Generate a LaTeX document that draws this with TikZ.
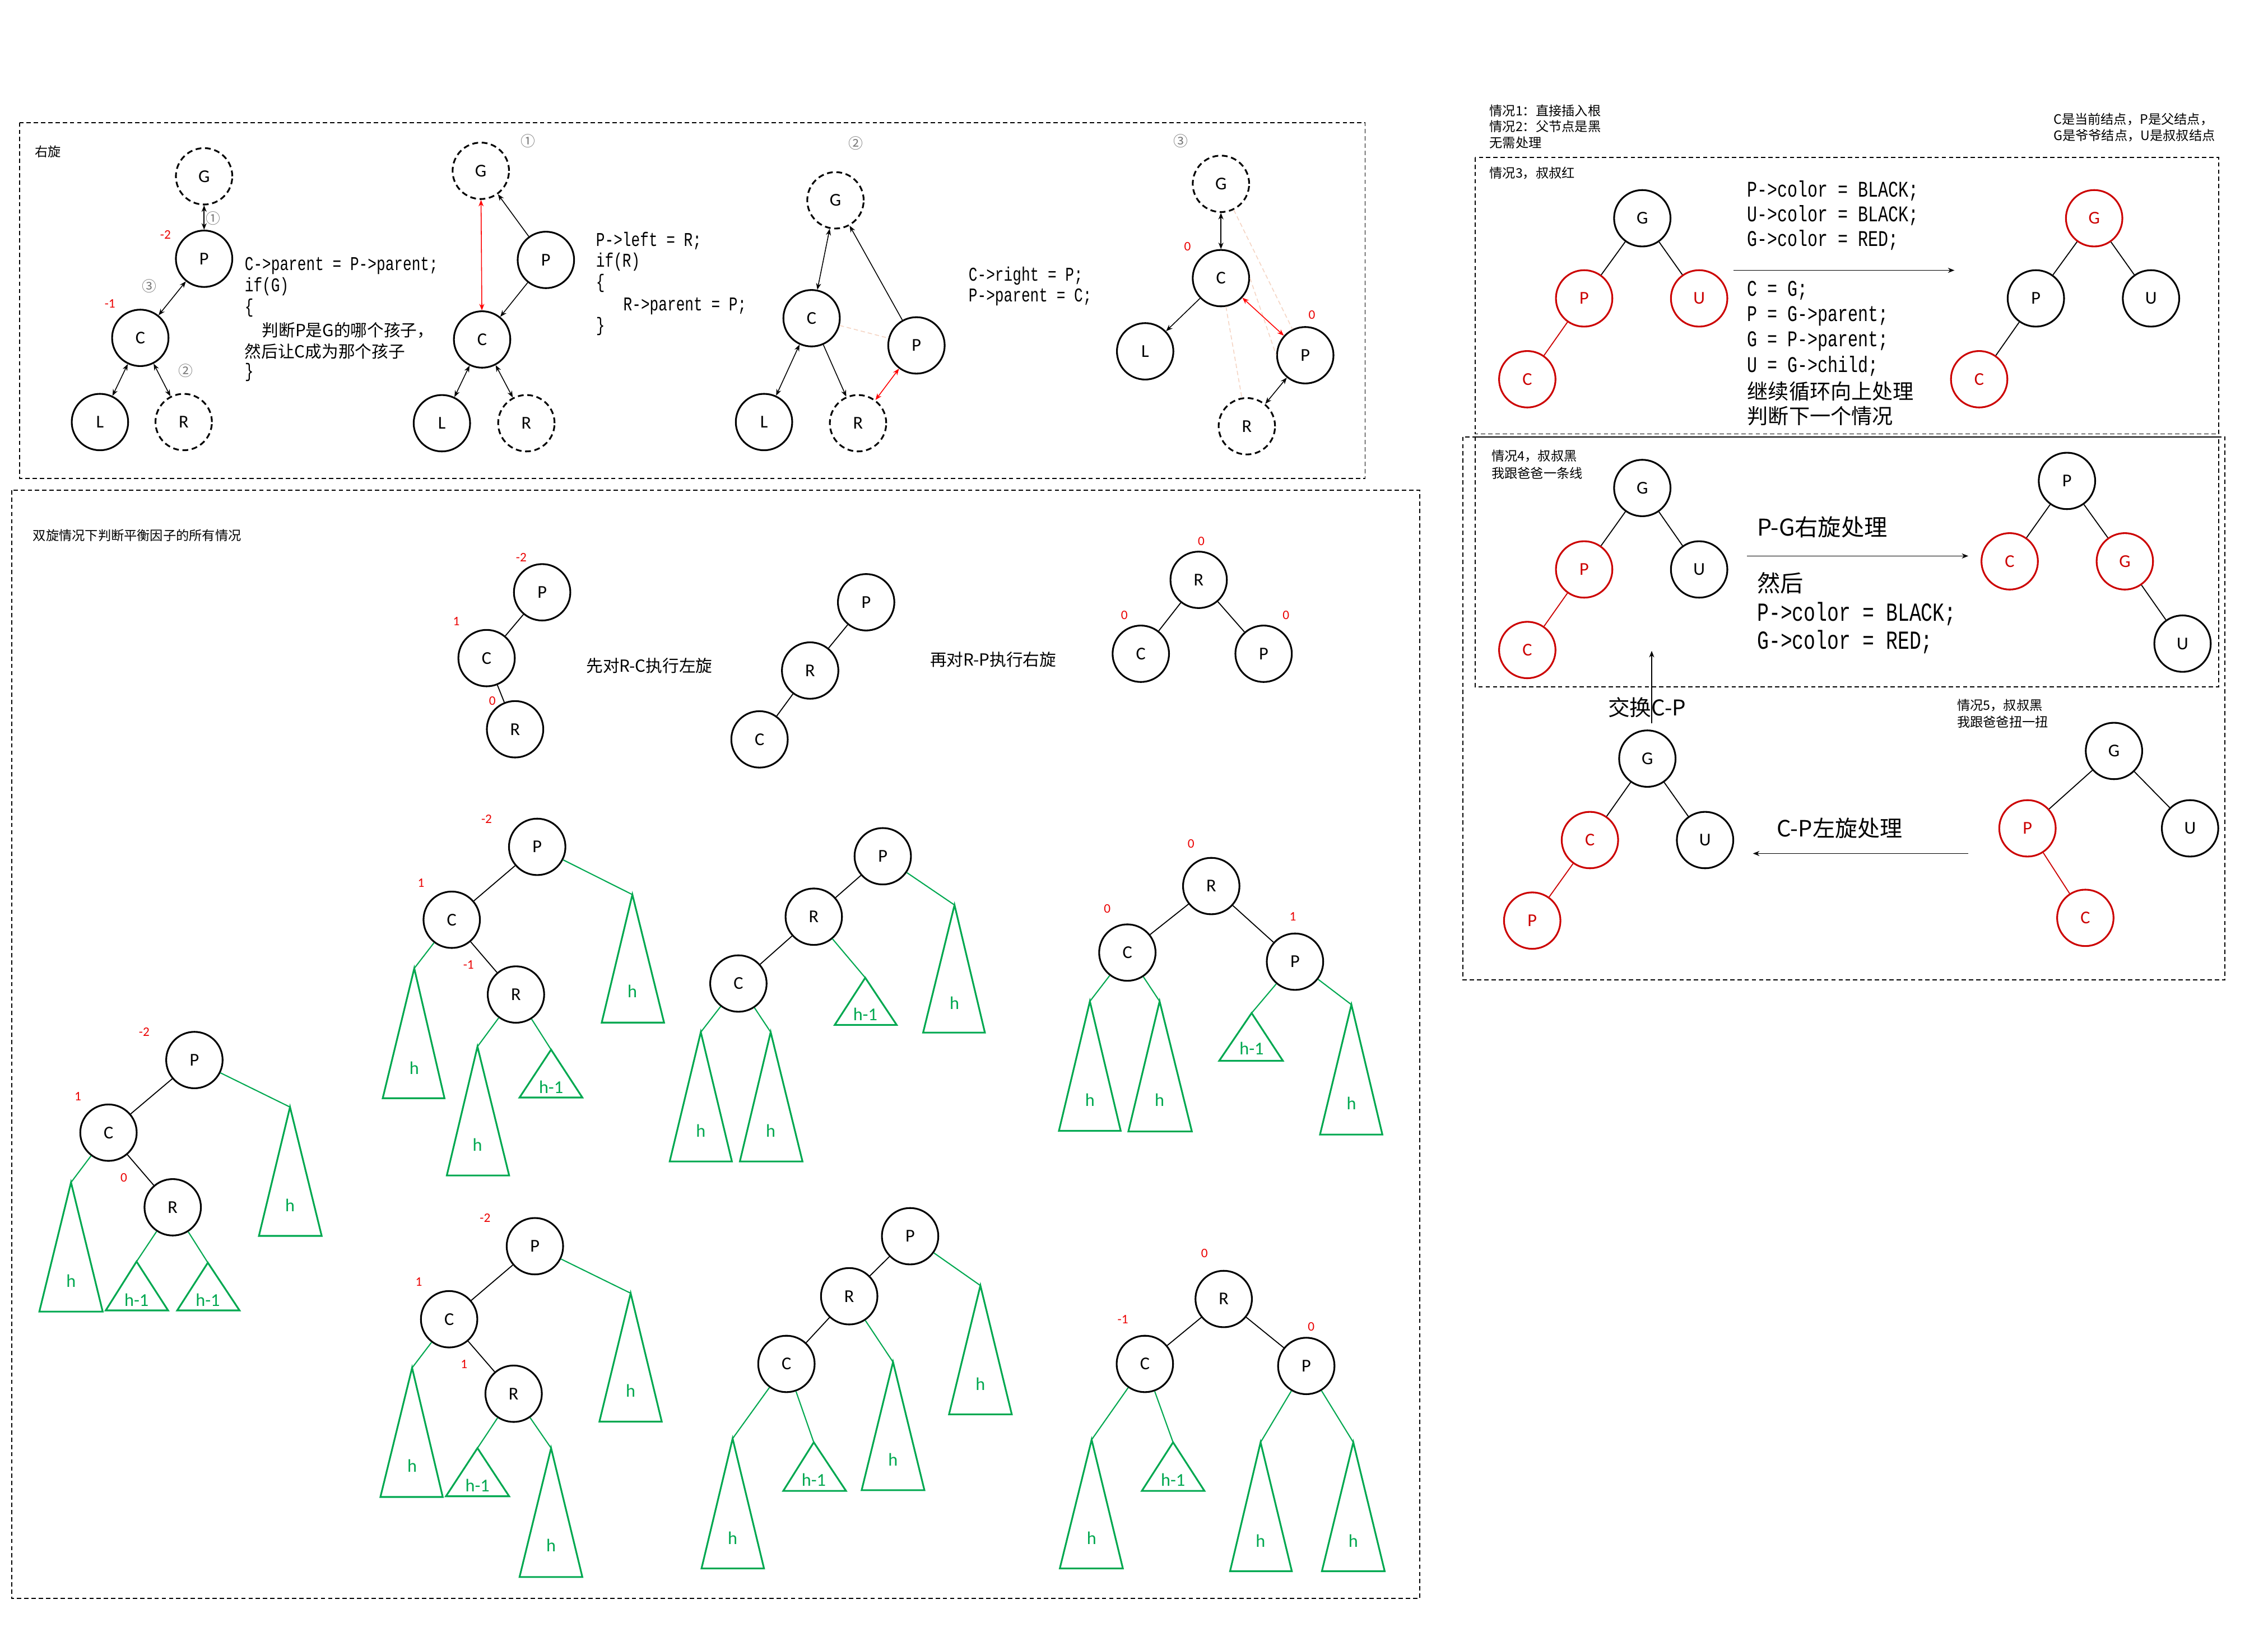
\documentclass[tikz,border=0pt]{standalone}
\usepackage{fontspec}
\setmainfont{Carlito}
\newfontfamily\cjk{Noto Sans CJK SC}
\newfontfamily\code[FakeStretch=0.75]{Liberation Mono}
\usetikzlibrary{arrows.meta}
\definecolor{nred}{RGB}{204,0,0}
\definecolor{bfred}{RGB}{235,0,0}
\definecolor{grn}{RGB}{0,168,80}
\definecolor{cgray}{RGB}{120,120,120}
\definecolor{peach}{RGB}{245,212,195}
\tikzset{
 nd/.style={circle,draw,line width=1.2pt,minimum size=39pt,inner sep=0pt,font=\fontsize{12.5}{14}\selectfont},
 dnd/.style={nd,dash pattern=on 4pt off 2.5pt},
 rnd/.style={nd,draw=nred,text=nred},
 bfl/.style={text=bfred,inner sep=0pt,font=\fontsize{9}{10}\selectfont},
 circn/.style={text=cgray,inner sep=0pt,font=\cjk\fontsize{10}{11}\selectfont},
 txt/.style={inner sep=0pt,anchor=west},
 ed/.style={line width=0.7pt},
 red/.style={line width=0.7pt,draw=nred},
 gl/.style={draw=grn,line width=0.8pt},
 tri/.style={draw=grn,line width=1.2pt,line join=miter},
 hlab/.style={text=grn,inner sep=0pt,font=\fontsize{12.5}{14}\selectfont},
 dbox/.style={draw,line width=0.7pt,dash pattern=on 3pt off 2pt},
 arw/.style={line width=0.6pt,-{Stealth[length=4.5pt,width=3.5pt]}},
 darw/.style={line width=0.6pt,{Stealth[length=4.5pt,width=3.5pt]}-{Stealth[length=4.5pt,width=3.5pt]}},
 rdarw/.style={darw,draw=red},
 faint/.style={draw=peach,line width=0.6pt,dash pattern=on 3pt off 2pt},
 codeA/.style={txt,font=\code\fontsize{13.5}{15}\selectfont},
 codeB/.style={txt,font=\code\fontsize{15.5}{17}\selectfont},
 codeC/.style={txt,font=\code\fontsize{18}{20}\selectfont},
 cjkA/.style={txt,font=\cjk\fontsize{11.5}{13}\selectfont},
 cjkB/.style={txt,font=\cjk\fontsize{14.4}{16}\selectfont},
 cjkC/.style={txt,font=\cjk\fontsize{16}{18}\selectfont},
 cjkS/.style={txt,font=\cjk\fontsize{9}{10}\selectfont},
}
\newcommand\mytri[8]{%
 \coordinate (#1) at (#2,#3);
 \draw[tri] (#1) -- (#4,#6) -- (#5,#6) -- cycle;
 \node[hlab] (#1l) at (#2,#8) {#7};
}
\begin{document}
\begin{tikzpicture}[x=1pt,y=-1pt]
\useasboundingbox (0,0) rectangle (1568,1128);
\fill[white] (0,0) rectangle (1568,1128);

% ===== boxes =====
\draw[dbox] (13.7,84.7) rectangle (943.8,330.9);
\draw[dbox] (8,338.9) rectangle (981.4,1105.1);
\draw[dbox] (1020,108.8) rectangle (1534,300);
\draw[dbox] (1020,302) rectangle (1534,474.9);
\draw[dbox] (1011.5,302) rectangle (1538.3,677.4);

% ===== top box =====
\node[cjkS] (t0) at (24,105) {右旋};

% tree 1
\node[dnd] (G1) at (141.1,121.9) {G};
\node[nd] (P1) at (141.1,178.9) {P};
\node[nd] (C1) at (97.0,233.6) {C};
\node[nd] (L1) at (69.1,291.8) {L};
\node[dnd] (R1) at (127.0,291.8) {R};
\draw[darw] (G1) -- (P1);
\draw[darw] (P1) -- (C1);
\draw[darw] (C1) -- (L1);
\draw[darw] (C1) -- (R1);
\node[circn] (n11) at (147.4,151.1) {①};
\node[circn] (n13) at (103.0,198.0) {③};
\node[circn] (n12) at (128.5,256.4) {②};
\node[bfl] (b11) at (114.4,162.1) {-2};
\node[bfl] (b12) at (76.0,209.8) {-1};
\node[codeA] (k11) at (169,183.7) {C->parent = P->parent;};
\node[codeA] (k12) at (169,198.0) {if(G)};
\node[codeA] (k13) at (169,212.7) {\{};
\node[cjkA] (k14) at (181,228.2) {判断P是G的哪个孩子，};
\node[cjkA] (k15) at (169,242.9) {然后让C成为那个孩子};
\node[codeA] (k16) at (169,257.5) {\}};

% tree 2
\node[dnd] (G2) at (332.4,118.1) {G};
\node[nd] (P2) at (377.4,179.7) {P};
\node[nd] (C2) at (333.3,234.7) {C};
\node[nd] (L2) at (305.5,292.6) {L};
\node[dnd] (R2) at (363.9,292.6) {R};
\draw[rdarw] (G2) -- (C2);
\draw[arw] (P2) -- (G2);
\draw[arw] (P2) -- (C2);
\draw[darw] (C2) -- (L2);
\draw[darw] (C2) -- (R2);
\node[circn] (n21) at (364.9,97.4) {①};
\node[codeA] (k21) at (411.9,166.7) {P->left = R;};
\node[codeA] (k22) at (411.9,180.9) {if(R)};
\node[codeA] (k23) at (411.9,195.9) {\{};
\node[codeA] (k24) at (430.8,211.5) {R->parent = P;};
\node[codeA] (k25) at (411.9,225.7) {\}};

% tree 3
\node[dnd] (G3) at (577.6,138.5) {G};
\node[nd] (C3) at (561.1,220.0) {C};
\node[nd] (P3) at (633.6,238.8) {P};
\node[nd] (L3) at (528.2,291.8) {L};
\node[dnd] (R3) at (593.2,292.6) {R};
\draw[faint] (C3) -- (P3);
\draw[darw] (G3) -- (C3);
\draw[arw] (P3) -- (G3);
\draw[arw] (C3) -- (R3);
\draw[darw] (C3) -- (L3);
\draw[rdarw] (R3) -- (P3);
\node[circn] (n31) at (591.7,99.0) {②};
\node[codeA] (k31) at (669.5,190.7) {C->right = P;};
\node[codeA] (k32) at (669.5,205.4) {P->parent = C;};

% tree 4
\node[dnd] (G4) at (844.1,127.1) {G};
\node[nd] (C4) at (844.1,192.3) {C};
\node[nd] (L4) at (791.7,242.9) {L};
\node[nd] (P4) at (902.4,245.6) {P};
\node[dnd] (R4) at (862.0,294.7) {R};
\draw[faint] (G4) -- (P4);
\draw[faint] (C4) -- (R4);
\draw[faint] (C4.east) -- (P4.west);
\draw[darw] (G4) -- (C4);
\draw[arw] (C4) -- (L4);
\draw[rdarw] (C4) -- (P4);
\draw[darw] (P4) -- (R4);
\node[circn] (n41) at (816.2,97.4) {③};
\node[bfl] (b41) at (821.0,170.3) {0};
\node[bfl] (b42) at (907.0,217.6) {0};

% ===== right region =====
\node[cjkS] (s1) at (1029.6,76.4) {情况1：直接插入根};
\node[cjkS] (s2) at (1029.6,87.5) {情况2：父节点是黑};
\node[cjkS] (s3) at (1029.6,98.5) {无需处理};
\node[cjkS] (s4) at (1419.5,82.5) {C是当前结点，P是父结点，};
\node[cjkS] (s5) at (1419.5,93.9) {G是爷爷结点，U是叔叔结点};

% case 3
\node[cjkS] (c3t) at (1029.6,119.7) {情况3，叔叔红};
\node[nd] (c3G) at (1135.4,150.9) {G};
\node[rnd] (c3P) at (1095.2,206.3) {P};
\node[rnd] (c3U) at (1174.7,206.3) {U};
\node[rnd] (c3C) at (1055.9,262.2) {C};
\draw[ed] (c3G) -- (c3P);
\draw[ed] (c3G) -- (c3U);
\draw[red] (c3P) -- (c3C);
\coordinate (a3s) at (1198.6,186.9);
\coordinate (a3e) at (1351.2,186.9);
\draw[arw] (a3s) -- (a3e);
\node[codeB] (k51) at (1207.8,131.9) {P->color = BLACK;};
\node[codeB] (k52) at (1207.8,148.9) {U->color = BLACK;};
\node[codeB] (k53) at (1207.8,166.1) {G->color = RED;};
\node[codeB] (k54) at (1207.8,201.0) {C = G;};
\node[codeB] (k55) at (1207.8,218.5) {P = G->parent;};
\node[codeB] (k56) at (1207.8,236.0) {G = P->parent;};
\node[codeB] (k57) at (1207.8,253.1) {U = G->child;};
\node[cjkB] (k58) at (1207.8,270.4) {继续循环向上处理};
\node[cjkB] (k59) at (1207.8,287.6) {判断下一个情况};
\node[rnd] (d3G) at (1447.8,150.9) {G};
\node[nd] (d3P) at (1407.5,206.3) {P};
\node[nd] (d3U) at (1487.1,206.3) {U};
\node[rnd] (d3C) at (1368.3,262.2) {C};
\draw[ed] (d3G) -- (d3P);
\draw[ed] (d3G) -- (d3U);
\draw[ed] (d3P) -- (d3C);

% case 4
\node[cjkS] (c4t) at (1031,315.4) {情况4，叔叔黑};
\node[cjkS] (c4u) at (1031,327.2) {我跟爸爸一条线};
\node[nd] (c4G) at (1135.4,337.4) {G};
\node[rnd] (c4P) at (1095.2,393.7) {P};
\node[nd] (c4U) at (1174.7,393.7) {U};
\node[rnd] (c4C) at (1055.9,449.4) {C};
\draw[ed] (c4G) -- (c4P);
\draw[ed] (c4G) -- (c4U);
\draw[red] (c4P) -- (c4C);
\node[cjkC] (k61) at (1214.6,364.3) {P-G右旋处理};
\coordinate (a4s) at (1207.8,384.4);
\coordinate (a4e) at (1360.8,384.4);
\draw[arw] (a4s) -- (a4e);
\node[cjkC] (k62) at (1214.6,403.0) {然后};
\node[codeC] (k63) at (1214.6,424.3) {P->color = BLACK;};
\node[codeC] (k64) at (1214.6,443.8) {G->color = RED;};
\node[nd] (d4P) at (1429.0,332.5) {P};
\node[rnd] (d4C) at (1389.4,388.1) {C};
\node[rnd] (d4G) at (1469.0,388.1) {G};
\node[nd] (d4U) at (1508.9,445.0) {U};
\draw[ed] (d4P) -- (d4C);
\draw[ed] (d4P) -- (d4G);
\draw[ed] (d4G) -- (d4U);

% case 5
\node[cjkC,font=\cjk\fontsize{15}{17}\selectfont,anchor=center] (k71) at (1138.7,489.1) {交换C-P};
\coordinate (vs) at (1141.9,500.1);
\coordinate (ve) at (1141.9,450.0);
\draw[arw] (vs) -- (ve);
\node[cjkS] (c5t) at (1352.9,487.8) {情况5，叔叔黑};
\node[cjkS] (c5u) at (1352.9,499.3) {我跟爸爸扭一扭};
\node[nd] (c5G) at (1138.9,524.5) {G};
\node[rnd] (c5C) at (1099.2,580.8) {C};
\node[nd] (c5U) at (1178.8,580.8) {U};
\node[rnd] (c5P) at (1059.3,636.5) {P};
\draw[ed] (c5G) -- (c5C);
\draw[ed] (c5G) -- (c5U);
\draw[red] (c5C) -- (c5P);
\node[cjkC,font=\cjk\fontsize{15.5}{17}\selectfont] (k72) at (1228.3,572.7) {C-P左旋处理};
\coordinate (a5s) at (1360.8,590.1);
\coordinate (a5e) at (1211.9,590.1);
\draw[arw] (a5s) -- (a5e);
\node[nd] (d5G) at (1461.5,519.2) {G};
\node[rnd] (d5P) at (1401.7,572.7) {P};
\node[nd] (d5U) at (1514.1,572.7) {U};
\node[rnd] (d5C) at (1441.7,634.6) {C};
\draw[ed] (d5G) -- (d5P);
\draw[ed] (d5G) -- (d5U);
\draw[red] (d5P) -- (d5C);

% ===== bottom box =====
\node[cjkS] (bt) at (22.6,370.2) {双旋情况下判断平衡因子的所有情况};

% demo 1
\node[nd] (e1P) at (374.8,409.5) {P};
\node[nd] (e1C) at (336.4,455.0) {C};
\node[nd] (e1R) at (356.1,504.2) {R};
\draw[ed] (e1P) -- (e1C);
\draw[ed] (e1C) -- (e1R);
\node[bfl] (e1b1) at (360.4,385.3) {-2};
\node[bfl] (e1b2) at (315.5,429.4) {1};
\node[bfl] (e1b3) at (340.4,484.5) {0};
\node[cjkA] (e1t) at (405.1,460.1) {先对R-C执行左旋};
% demo 2
\node[nd] (e2P) at (598.8,416.4) {P};
\node[nd] (e2R) at (560.1,463.6) {R};
\node[nd] (e2C) at (525.1,511.2) {C};
\draw[ed] (e2P) -- (e2R);
\draw[ed] (e2R) -- (e2C);
\node[cjkA] (e2t) at (642.8,455.9) {再对R-P执行右旋};
% demo 3
\node[nd] (e3R) at (828.7,400.9) {R};
\node[nd] (e3C) at (788.7,452.0) {C};
\node[nd] (e3P) at (873.6,452.0) {P};
\draw[ed] (e3R) -- (e3C);
\draw[ed] (e3R) -- (e3P);
\node[bfl] (e3b1) at (830.5,374.2) {0};
\node[bfl] (e3b2) at (777.3,425.2) {0};
\node[bfl] (e3b3) at (889.1,425.2) {0};

% tree A
\node[nd] (AP) at (371.4,585.5) {P};
\node[nd] (AC) at (312.3,635.9) {C};
\node[nd] (AR) at (356.7,687.6) {R};
\draw[ed] (AP) -- (AC);
\draw[ed] (AC) -- (AR);
\node[bfl] (Ab1) at (336.4,566.4) {-2};
\node[bfl] (Ab2) at (291.1,610.6) {1};
\node[bfl] (Ab3) at (323.9,667.2) {-1};
\mytri{Ta1}{437.2}{618.5}{416.0}{459.1}{707.0}{h}{685.3}
\mytri{Ta2}{286.4}{669.5}{264.6}{307.3}{759.3}{h}{738.2}
\mytri{Ta3}{330.1}{723.6}{308.9}{352.0}{812.7}{h}{791.6}
\mytri{Ta4}{381.0}{725.7}{359.2}{402.6}{758.8}{h-1}{751.4}
\draw[gl] (AP) -- (Ta1);
\draw[gl] (AC) -- (Ta2);
\draw[gl] (AR) -- (Ta3);
\draw[gl] (AR) -- (Ta4);

% tree B
\node[nd] (BP) at (134.4,732.9) {P};
\node[nd] (BC) at (75.0,783.1) {C};
\node[nd] (BR) at (119.4,834.7) {R};
\draw[ed] (BP) -- (BC);
\draw[ed] (BC) -- (BR);
\node[bfl] (Bb1) at (99.7,713.6) {-2};
\node[bfl] (Bb2) at (53.8,758.0) {1};
\node[bfl] (Bb3) at (85.6,814.3) {0};
\mytri{Tb1}{200.5}{765.4}{179.0}{222.4}{854.5}{h}{833.3}
\mytri{Tb2}{49.1}{817.5}{27.2}{71.0}{906.8}{h}{885.4}
\mytri{Tb3}{94.4}{872.2}{73.1}{116.2}{906.0}{h-1}{898.6}
\mytri{Tb4}{143.7}{873.0}{122.5}{165.6}{906.0}{h-1}{898.6}
\draw[gl] (BP) -- (Tb1);
\draw[gl] (BC) -- (Tb2);
\draw[gl] (BR) -- (Tb3);
\draw[gl] (BR) -- (Tb4);

% tree C
\node[nd] (CP) at (610.3,592.0) {P};
\node[nd] (CR) at (562.6,633.8) {R};
\node[nd] (CC) at (510.5,680.0) {C};
\draw[ed] (CP) -- (CR);
\draw[ed] (CR) -- (CC);
\mytri{Tc1}{659.9}{625.7}{638.2}{680.9}{713.9}{h}{693.5}
\mytri{Tc2}{598.2}{676.0}{577.1}{619.9}{708.6}{h-1}{701.2}
\mytri{Tc3}{484.5}{713.6}{463.0}{506.0}{803.0}{h}{781.8}
\mytri{Tc4}{532.8}{713.6}{511.5}{554.8}{803.0}{h}{781.8}
\draw[gl] (CP) -- (Tc1);
\draw[gl] (CR) -- (Tc2);
\draw[gl] (CC) -- (Tc3);
\draw[gl] (CC) -- (Tc4);

% tree E
\node[nd] (EP) at (895.3,664.9) {P};
\node[nd] (ER) at (837.4,612.6) {R};
\node[nd] (EC) at (779.4,658.6) {C};
\draw[ed] (ER) -- (EC);
\draw[ed] (ER) -- (EP);
\node[bfl] (Eb1) at (823.4,583.2) {0};
\node[bfl] (Eb2) at (765.5,628.4) {0};
\node[bfl] (Eb3) at (893.8,633.8) {1};
\mytri{Te1}{753.5}{692.3}{732.1}{774.8}{781.8}{h}{760.6}
\mytri{Te2}{801.7}{692.3}{780.1}{824.0}{782.3}{h}{760.6}
\mytri{Te3}{865.3}{700.4}{842.9}{886.9}{733.4}{h-1}{725.0}
\mytri{Te4}{934.3}{694.6}{912.6}{955.7}{784.4}{h}{762.8}
\draw[gl] (EC) -- (Te1);
\draw[gl] (EC) -- (Te2);
\draw[gl] (EP) -- (Te3);
\draw[gl] (EP) -- (Te4);

% tree D
\node[nd] (DP) at (369.8,861.6) {P};
\node[nd] (DC) at (310.5,912.1) {C};
\node[nd] (DR) at (355.1,963.6) {R};
\draw[ed] (DP) -- (DC);
\draw[ed] (DC) -- (DR);
\node[bfl] (Db1) at (335.4,842.1) {-2};
\node[bfl] (Db2) at (289.5,886.2) {1};
\node[bfl] (Db3) at (320.8,943.0) {1};
\mytri{Td1}{436.0}{894.1}{414.4}{457.5}{982.9}{h}{961.5}
\mytri{Td2}{284.9}{945.7}{263.0}{306.1}{1035.0}{h}{1013.6}
\mytri{Td3}{330.1}{1001.2}{308.3}{352.0}{1034.5}{h-1}{1026.8}
\mytri{Td4}{381.0}{1001.2}{359.2}{402.6}{1090.3}{h}{1068.6}
\draw[gl] (DP) -- (Td1);
\draw[gl] (DC) -- (Td2);
\draw[gl] (DR) -- (Td3);
\draw[gl] (DR) -- (Td4);

% tree F
\node[nd] (FP) at (629.2,854.7) {P};
\node[nd] (FR) at (587.1,896.2) {R};
\node[nd] (FC) at (543.7,943.0) {C};
\draw[ed] (FP) -- (FR);
\draw[ed] (FR) -- (FC);
\mytri{Tf1}{677.8}{888.8}{656.1}{699.5}{977.9}{h}{956.8}
\mytri{Tf2}{617.4}{941.7}{595.7}{639.1}{1030.3}{h}{1009.1}
\mytri{Tf3}{506.5}{994.6}{485.0}{528.2}{1084.4}{h}{1063.3}
\mytri{Tf4}{562.6}{997.2}{541.5}{584.9}{1030.8}{h-1}{1022.9}
\draw[gl] (FP) -- (Tf1);
\draw[gl] (FR) -- (Tf2);
\draw[gl] (FC) -- (Tf3);
\draw[gl] (FC) -- (Tf4);

% tree G
\node[nd] (HR) at (846.0,898.1) {R};
\node[nd] (HC) at (791.5,943.0) {C};
\node[nd] (HP) at (903.1,944.4) {P};
\draw[ed] (HR) -- (HC);
\draw[ed] (HR) -- (HP);
\node[bfl] (Hb1) at (832.7,866.4) {0};
\node[bfl] (Hb2) at (776.3,912.1) {-1};
\node[bfl] (Hb3) at (906.5,917.1) {0};
\mytri{Th1}{754.7}{995.4}{732.7}{776.3}{1084.4}{h}{1063.3}
\mytri{Th2}{811.0}{997.2}{789.4}{832.7}{1030.8}{h-1}{1022.9}
\mytri{Th3}{871.5}{997.2}{850.4}{893.1}{1086.3}{h}{1065.2}
\mytri{Th4}{935.6}{997.2}{913.9}{957.3}{1086.3}{h}{1065.2}
\draw[gl] (HC) -- (Th1);
\draw[gl] (HC) -- (Th2);
\draw[gl] (HP) -- (Th3);
\draw[gl] (HP) -- (Th4);
\end{tikzpicture}
\end{document}
